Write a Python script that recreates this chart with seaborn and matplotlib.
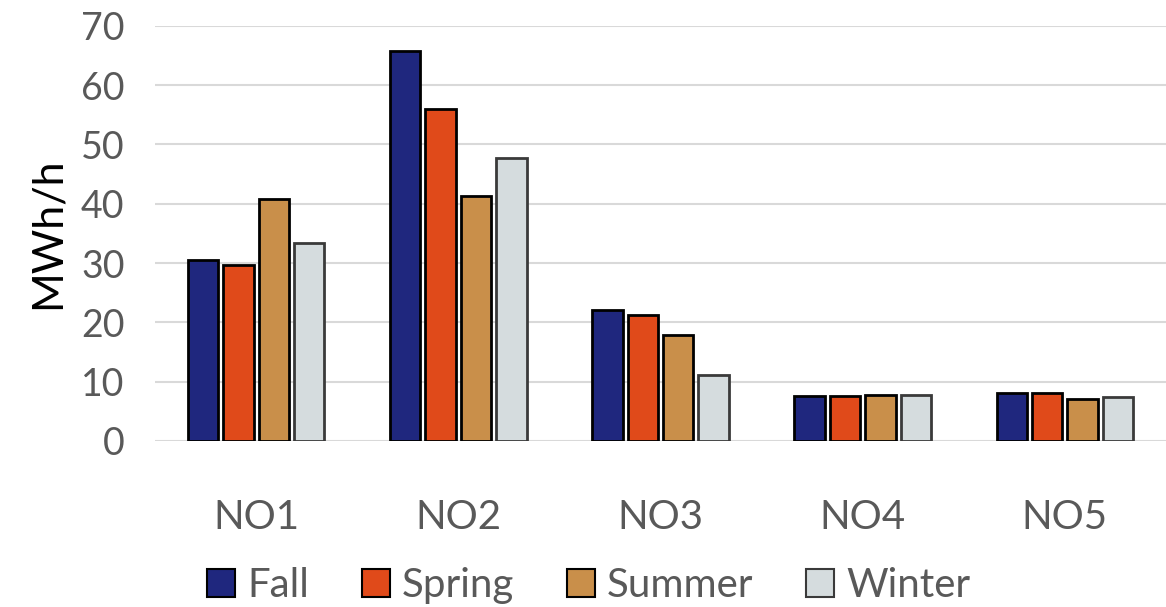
import pandas as pd
import matplotlib.pyplot as plt
import seaborn as sns

zones = ["NO1", "NO2", "NO3", "NO4", "NO5"]
seasons = ["Fall", "Spring", "Summer", "Winter"]
fall = [30.5, 65.8, 22.1, 7.6, 8.1]
spring = [29.6, 56.0, 21.3, 7.6, 8.1]
summer = [40.8, 41.3, 17.8, 7.8, 7.1]
winter = [33.3, 47.7, 11.2, 7.8, 7.4]

colors = ["#1F277E", "#E04A1A", "#C98F4A", "#D5DCDE"]
edges = ["#000000", "#000000", "#000000", "#3a3a3a"]

sns.set_theme(style="white")
plt.rcParams["font.family"] = ["Lato", "DejaVu Sans"]

df = pd.DataFrame({
    "zone": zones * 4,
    "season": [s for s in seasons for _ in zones],
    "value": fall + spring + summer + winter,
})

fig = plt.figure(figsize=(11.66, 6.07), dpi=100)
ax = fig.add_axes([0.133, 0.2735, 0.867, 0.684])

sns.barplot(data=df, x="zone", y="value", hue="season", hue_order=seasons,
            palette=colors, saturation=1, width=0.7, gap=0.14, linewidth=2,
            edgecolor="black", ax=ax, legend=False)
for cont, ec in zip(ax.containers, edges):
    for p in cont:
        p.set_edgecolor(ec)

ax.set_ylim(0, 70)
ax.set_yticks(range(0, 71, 10))
ax.set_xlim(-0.5, 4.5)
ax.yaxis.grid(True, color="#d9d9d9", linewidth=1.5)
ax.set_axisbelow(True)
for s in ax.spines.values():
    s.set_visible(False)
ax.tick_params(axis="y", labelsize=27, labelcolor="#595959", pad=22, length=0)
ax.tick_params(axis="x", labelsize=29, labelcolor="#595959", pad=42, length=0)
ax.set_xlabel("")
ax.set_ylabel("MWh/h", fontsize=31, color="black", labelpad=10)

handles = [plt.Rectangle((0, 0), 1, 1, facecolor=c, edgecolor=e, linewidth=1.5)
           for c, e in zip(colors, edges)]
fig.legend(handles, seasons, loc="lower center", bbox_to_anchor=(0.505, -0.055),
           ncol=4, frameon=False, fontsize=29, labelcolor="#595959",
           handlelength=0.7, handleheight=0.7, handletextpad=0.3,
           columnspacing=1.3)

fig.savefig("out.png", dpi=100)
